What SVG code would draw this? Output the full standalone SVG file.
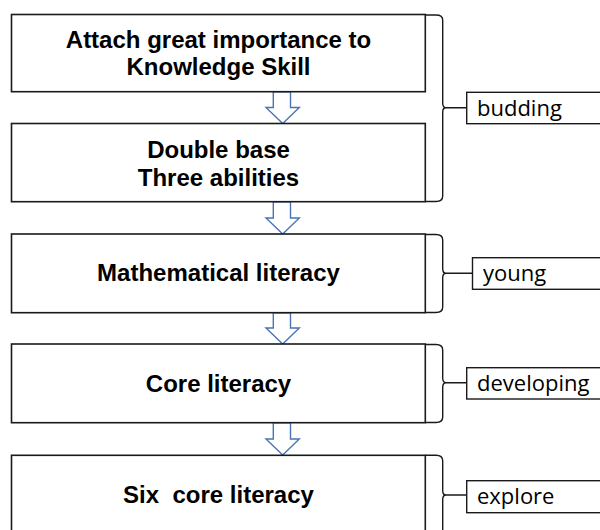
<svg xmlns="http://www.w3.org/2000/svg" width="600" height="530" viewBox="0 0 600 530">
<defs>
<style>
.box{fill:#fff;stroke:#1a1a1a;stroke-width:1.6}
.lbl{fill:#fff;stroke:#1a1a1a;stroke-width:1.4}
.brace{fill:none;stroke:#1a1a1a;stroke-width:1.4}
.arr{fill:#fff;stroke:#4a74b8;stroke-width:1.4;stroke-linejoin:miter}
.t{font-family:"Liberation Sans",Arial,sans-serif;font-weight:bold;font-size:24px;fill:#000;text-anchor:middle}
.s{font-family:"Open Sans","Noto Sans",sans-serif;font-size:22px;fill:#000}
</style>
</defs>
<rect width="600" height="530" fill="#fff"/>
<g id="connectors">
<path class="arr" d="M273.3,91.7 H290.5 V107.5 H299.3 L282.7,123.5 L266,107.5 H273.3 Z"/>
<path class="arr" d="M273.3,201.7 H290.5 V218 H299.3 L282.7,234 L266,218 H273.3 Z"/>
<path class="arr" d="M273.3,312.7 H290.5 V328 H299.3 L282.7,344 L266,328 H273.3 Z"/>
<path class="arr" d="M273.3,422.7 H290.5 V439 H299.3 L282.7,455 L266,439 H273.3 Z"/>
<path class="brace" d="M425.3,15 H436 Q442.7,15 442.7,20 V103 Q442.7,107.7 446,107.7 Q442.7,107.7 442.7,112 V196 Q442.7,201.5 436,201.5 H425.3 M446,107.7 H466.7"/>
<path class="brace" d="M425.3,234.5 H436 Q442.7,234.5 442.7,240 V268.5 Q442.7,273.3 446,273.3 Q442.7,273.3 442.7,278 V307 Q442.7,312.5 436,312.5 H425.3 M446,273.3 H472.5"/>
<path class="brace" d="M425.3,344.5 H436 Q442.7,344.5 442.7,350 V378 Q442.7,382.7 446,382.7 Q442.7,382.7 442.7,387.5 V417 Q442.7,422.5 436,422.5 H425.3 M446,382.7 H466.7"/>
<path class="brace" d="M425.3,455.3 H436 Q442.7,455.3 442.7,461 V490.5 Q442.7,495 446,495 Q442.7,495 442.7,499.5 V535 M446,495 H466.7"/>
</g>
<g id="n1">
<rect class="box" x="11.5" y="14.5" width="413.8" height="77.2"/>
<text class="t" x="218.5" y="48">Attach great importance to</text>
<text class="t" x="218.5" y="75">Knowledge Skill</text>
</g>
<g id="n2">
<rect class="box" x="11.5" y="123.5" width="413.8" height="78.2"/>
<text class="t" x="218.5" y="158">Double base</text>
<text class="t" x="218.5" y="186">Three abilities</text>
</g>
<g id="n3">
<rect class="box" x="11.5" y="234" width="413.8" height="78.7"/>
<text class="t" x="218.5" y="281">Mathematical literacy</text>
</g>
<g id="n4">
<rect class="box" x="11.5" y="344" width="413.8" height="78.7"/>
<text class="t" x="218.5" y="392">Core literacy</text>
</g>
<g id="n5">
<rect class="box" x="11.5" y="455.3" width="413.8" height="90"/>
<text class="t" x="218.5" y="503" style="white-space:pre">Six  core literacy</text>
</g>
<g id="l1">
<rect class="lbl" x="466.7" y="92.3" width="150" height="31.4"/>
<text class="s" x="477" y="115.5">budding</text>
</g>
<g id="l2">
<rect class="lbl" x="472.5" y="257.7" width="150" height="31.6"/>
<text class="s" x="483" y="281">young</text>
</g>
<g id="l3">
<rect class="lbl" x="466.7" y="367.7" width="150" height="31.3"/>
<text class="s" x="477" y="391">developing</text>
</g>
<g id="l4">
<rect class="lbl" x="466.7" y="480.7" width="150" height="32"/>
<text class="s" x="477" y="504">explore</text>
</g>
</svg>
